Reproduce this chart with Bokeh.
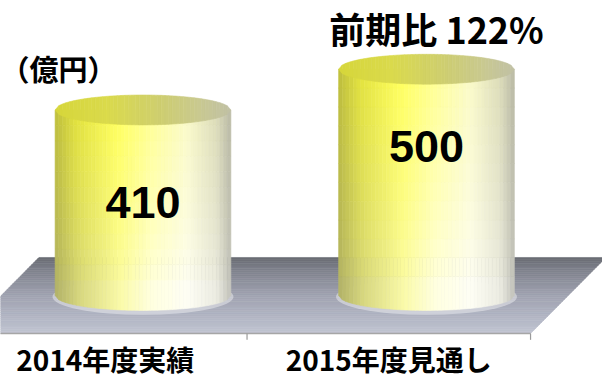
import numpy as np
from bokeh.plotting import figure
from bokeh.models import Range1d, ColumnDataSource, Label
from bokeh.core.properties import value
from bokeh.embed import file_html
from bokeh.resources import INLINE

# ---- data ----
categories = ["2014年度実績", "2015年度見通し"]
values = [410, 500]
unit_label = "（億円）"
ratio_prefix = "前期比"

# ---- style constants ----
D = 84          # floor half depth (y units)
SHIFT = 0.133   # perspective x-shift at depth D
RX = 0.31       # cylinder half width (category units)
RY = 33         # ellipse half height (y units)
label_pos = [0.5, 0.66]   # value label position as fraction of bar height

def hexc(c):
    return "#%02x%02x%02x" % tuple(int(round(max(0, min(255, v)))) for v in c)

def interp(stops, t):
    ts = [s[0] for s in stops]
    cs = np.array([s[1] for s in stops], dtype=float)
    return np.array([np.interp(t, ts, cs[:, k]) for k in range(3)])

n = len(categories)
p = figure(width=602, height=381, x_range=Range1d(-0.5026, 1.6208), y_range=Range1d(-190.1, 651.9),
           output_backend="svg", toolbar_location=None, min_border=0,
           x_axis_type=None, y_axis_type=None)
p.grid.visible = False
p.outline_line_color = None
p.background_fill_color = "white"
p.border_fill_color = "white"

# ---- floor ----
floor_stops = [(0.0, (194, 198, 210)), (0.12, (184, 188, 202)), (0.5, (160, 163, 177)),
               (0.85, (126, 128, 139)), (1.0, (104, 106, 114))]
NB = 40
ye = np.linspace(-D, D, NB + 1)
fxs, fys, fcol = [], [], []
for k in range(NB):
    y0, y1 = ye[k], ye[k + 1]
    t = ((y0 + y1) / 2 + D) / (2 * D)
    l0, l1 = -0.5 + SHIFT * y0 / D, -0.5 + SHIFT * y1 / D
    r0, r1 = n - 0.5 + SHIFT * y0 / D, n - 0.5 + SHIFT * y1 / D
    fxs.append([l0, r0, r1, l1])
    fys.append([y0, y0, y1, y1])
    fcol.append(hexc(interp(floor_stops, t)))
p.patches(xs=fxs, ys=fys, fill_color=fcol, line_color=fcol, line_width=0.6)

# front edge line and ticks
p.segment(x0=[-0.5 - SHIFT], y0=[-D], x1=[n - 0.5 - SHIFT], y1=[-D], line_color="#a6a6a6", line_width=1.5)
tick_x = [k + 0.5 - SHIFT for k in range(n)]
p.segment(x0=tick_x, y0=[-D] * n, x1=tick_x, y1=[-D - 14] * n, line_color="#9a9a9a", line_width=1.2)

# ---- cylinders ----
top_prof = [(0.0, (190, 190, 62)), (0.12, (226, 226, 62)), (0.35, (255, 255, 92)),
            (0.55, (255, 255, 150)), (0.75, (250, 250, 200)), (0.92, (220, 220, 185)), (1.0, (185, 185, 165))]
bot_prof = [(0.0, (175, 175, 110)), (0.15, (215, 215, 140)), (0.38, (250, 250, 182)),
            (0.55, (255, 255, 236)), (0.75, (255, 255, 252)), (0.92, (238, 238, 232)), (1.0, (195, 195, 190))]
ell_prof = [(0.0, (214, 214, 58)), (0.3, (218, 218, 76)), (0.6, (206, 206, 112)),
            (0.85, (200, 200, 148)), (1.0, (192, 192, 165))]

NC, NR = 48, 12
for i, v in enumerate(values):
    # bottom glow
    p.ellipse(x=[i], y=[-3], width=[2 * RX * 1.03], height=[2 * RY * 1.2],
              fill_color="white", fill_alpha=0.4, line_color=None)
    xe = i + np.linspace(-RX, RX, NC + 1)
    s = np.sqrt(np.clip(1 - ((xe - i) / RX) ** 2, 0, 1))
    rows = np.linspace(0, v, NR + 1)
    cxs, cys, ccol = [], [], []
    for j in range(NC):
        u = (j + 0.5) / NC
        ct = interp(top_prof, u)
        cb = interp(bot_prof, u)
        for k in range(NR):
            t = ((k + 0.5) / NR) ** 0.6
            c = cb + (ct - cb) * t
            if k == 0:
                b0, b1 = -RY * s[j], -RY * s[j + 1]
            else:
                b0 = b1 = rows[k]
            cxs.append([xe[j], xe[j + 1], xe[j + 1], xe[j]])
            cys.append([b0, b1, rows[k + 1], rows[k + 1]])
            ccol.append(hexc(c))
    p.patches(xs=cxs, ys=cys, fill_color=ccol, line_color=ccol, line_width=0.6)
    # top ellipse
    exs, eys, ecol = [], [], []
    for j in range(NC):
        u = (j + 0.5) / NC
        exs.append([xe[j], xe[j + 1], xe[j + 1], xe[j]])
        eys.append([v - RY * s[j], v - RY * s[j + 1], v + RY * s[j + 1], v + RY * s[j]])
        ecol.append(hexc(interp(ell_prof, u)))
    p.patches(xs=exs, ys=eys, fill_color=ecol, line_color=ecol, line_width=0.6)

# ---- value labels ----
vsrc = ColumnDataSource(dict(x=list(range(n)), y=[v * f for v, f in zip(values, label_pos)],
                             t=[str(v) for v in values]))
p.text(x="x", y="y", text="t", source=vsrc, text_font=value("Liberation Sans"),
       text_font_style="bold", text_font_size="45px", text_align="center",
       text_baseline="middle", text_color="black")

# ---- category labels ----
csrc = ColumnDataSource(dict(x=[k - SHIFT for k in range(n)], y=[-D - 57] * n, t=categories))
p.text(x="x", y="y", text="t", source=csrc, text_font=value("Noto Sans CJK JP"),
       text_font_style="bold", text_font_size="28px", text_align="center",
       text_baseline="middle", text_color="black")

# ---- ratio label ----
ratio = round(values[-1] / values[-2] * 100)
rsrc = ColumnDataSource(dict(x=[n - 1], y=[values[-1] + RY + 59], t=[f"{ratio_prefix} {ratio}%"]))
p.text(x="x", y="y", text="t", source=rsrc, text_font=value("Noto Sans CJK JP"),
       text_font_style="bold", text_font_size="36px", text_align="center",
       text_baseline="middle", text_color="black", x_offset=10)

# ---- unit label ----
p.add_layout(Label(x=-0.5026, y=502, text=unit_label, text_font="Noto Sans CJK JP",
                   text_font_style="bold", text_font_size="29px", text_baseline="middle",
                   text_color="black"))

open("out.html", "w", encoding="utf-8").write(file_html(p, INLINE))
